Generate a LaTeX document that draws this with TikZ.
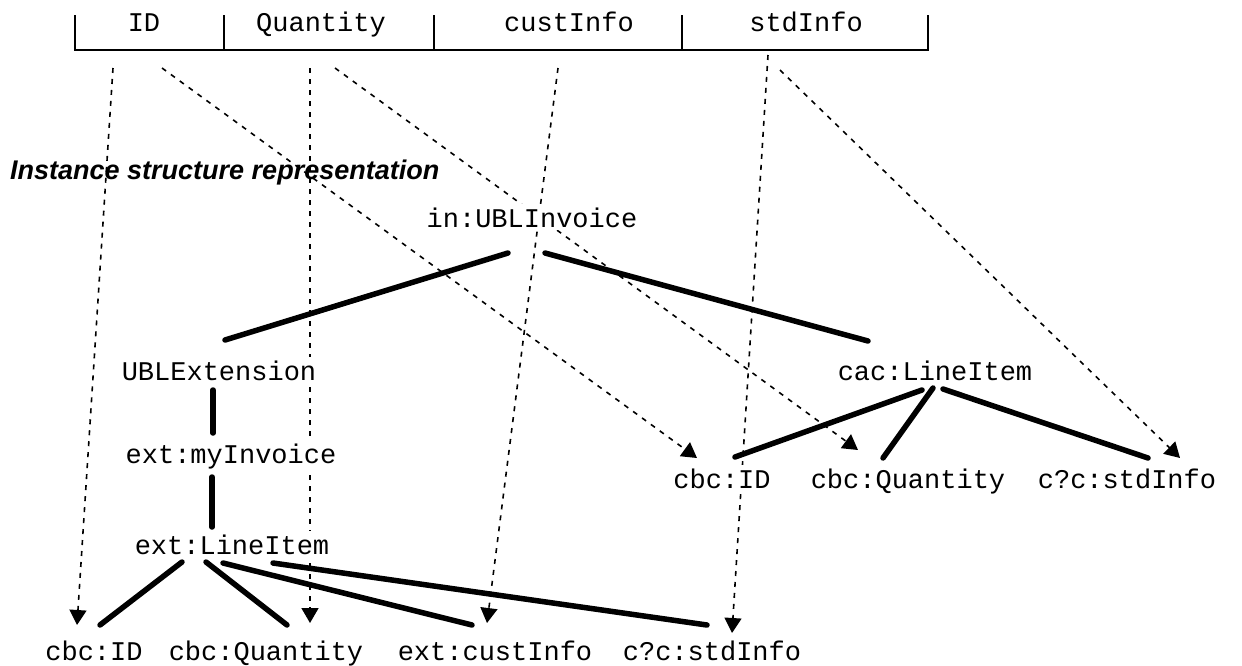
\documentclass[tikz,border=0pt]{standalone}
\usepackage{fontspec}
\newfontfamily\monof{Liberation Mono}
\newfontfamily\titlef{Liberation Sans}
\usetikzlibrary{calc,arrows.meta}
\pgfdeclarelayer{background}
\pgfsetlayers{background,main}
\tikzset{
  lbl/.style={anchor=base, inner sep=3pt, fill=white, font=\monof\fontsize{27}{30}\selectfont},
  hlbl/.style={anchor=base, inner sep=0pt, font=\monof\fontsize{27}{30}\selectfont},
  tree/.style={line width=5.5pt, line cap=round},
  mapline/.style={line width=1.6pt, dash pattern=on 5pt off 6pt, arrows={-{Triangle[width=17pt,length=15pt]}}},
  hdr/.style={line width=2pt}
}
\begin{document}
\begin{tikzpicture}[x=1pt,y=-1pt]
\useasboundingbox (0,0) rectangle (1242,665);
% header
\draw[hdr] (75,15) -- (75,50) -- (928,50) -- (928,15);
\draw[hdr] (224,15) -- (224,50);
\draw[hdr] (434,15) -- (434,50);
\draw[hdr] (682,15) -- (682,50);
\node[hlbl] (hID) at (144,31) {ID};
\node[hlbl] (hQty) at (321,31) {Quantity};
\node[hlbl] (hCust) at (569,31) {custInfo};
\node[hlbl] (hStd) at (806,31) {stdInfo};
% title
\node[anchor=base west, inner sep=0pt, font=\titlef\bfseries\itshape\fontsize{27}{30}\selectfont] (title) at (10,179) {Instance structure representation};
% tree nodes
\node[lbl] (inv) at (532,227) {in:UBLInvoice};
\node[lbl] (ublext) at (219,380) {UBLExtension};
\node[lbl] (cacli) at (935,380) {cac:LineItem};
\node[lbl] (myinv) at (231,463) {ext:myInvoice};
\node[lbl] (extli) at (232,554) {ext:LineItem};
\node[lbl] (rID) at (722,488) {cbc:ID};
\node[lbl] (rQty) at (908,488) {cbc:Quantity};
\node[lbl] (rStd) at (1127,488) {c?c:stdInfo};
\node[lbl] (bID) at (94,660) {cbc:ID};
\node[lbl] (bQty) at (266,660) {cbc:Quantity};
\node[lbl] (bCust) at (495,660) {ext:custInfo};
\node[lbl] (bStd) at (712,660) {c?c:stdInfo};
% mapping arrows
\begin{pgfonlayer}{background}
\fill[white] (0,0) rectangle (1242,665);
\draw[mapline] ($(hID.base)+(-31,37)$) -- ($(bID.base)+(-17,-35)$);
\draw[mapline] ($(hID.base)+(18,37)$) -- ($(rID.base)+(-25,-30)$);
\draw[mapline] ($(hQty.base)+(-11,37)$) -- ($(bQty.base)+(44,-37)$);
\draw[mapline] ($(hQty.base)+(14,37)$) -- ($(rQty.base)+(-50,-38)$);
\draw[mapline] ($(hCust.base)+(-11,37)$) -- ($(bCust.base)+(-8,-37)$);
\draw[mapline] ($(hStd.base)+(-38,24)$) -- ($(bStd.base)+(20,-27)$);
\draw[mapline] ($(hStd.base)+(-26,39)$) -- ($(rStd.base)+(53,-30)$);
\end{pgfonlayer}
% tree edges
\draw[tree] ($(inv.base)+(-24,26)$) -- ($(ublext.base)+(6,-40)$);
\draw[tree] ($(inv.base)+(13,26)$) -- ($(cacli.base)+(-67,-39)$);
\draw[tree] ($(ublext.base)+(-6,10)$) -- ($(myinv.base)+(-18,-30)$);
\draw[tree] ($(myinv.base)+(-19,14)$) -- ($(extli.base)+(-20,-27)$);
\draw[tree] ($(extli.base)+(-50,8)$) -- ($(bID.base)+(6,-35)$);
\draw[tree] ($(extli.base)+(-26,8)$) -- ($(bQty.base)+(21,-35)$);
\draw[tree] ($(extli.base)+(-9,9)$) -- ($(bCust.base)+(-23,-35)$);
\draw[tree] ($(extli.base)+(41,9)$) -- ($(bStd.base)+(-5,-35)$);
\draw[tree] ($(cacli.base)+(-13,10)$) -- ($(rID.base)+(13,-31)$);
\draw[tree] ($(cacli.base)+(-2,8)$) -- ($(rQty.base)+(-25,-30)$);
\draw[tree] ($(cacli.base)+(8,9)$) -- ($(rStd.base)+(21,-30)$);
\end{tikzpicture}
\end{document}
